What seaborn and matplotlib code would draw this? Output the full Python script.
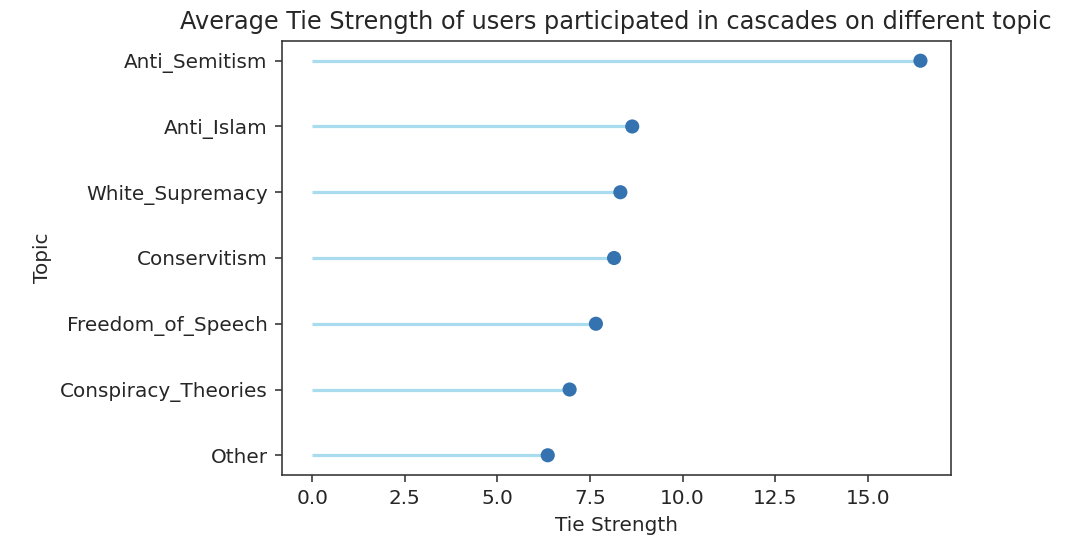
import numpy as np
import pandas as pd
import matplotlib
matplotlib.use("Agg")
import matplotlib.pyplot as plt
import seaborn as sns

# data, bottom to top
topics = ['Other', 'Conspiracy_Theories', 'Freedom_of_Speech', 'Conservitism',
          'White_Supremacy', 'Anti_Islam', 'Anti_Semitism']
tie_strength = [6.36, 6.95, 7.66, 8.15, 8.32, 8.64, 16.42]

df = pd.DataFrame({'topic': topics, 'tie_strength': tie_strength})
df['pos'] = np.arange(len(df))

sns.set_style('ticks')
plt.rcParams['font.family'] = ['DejaVu Sans']

fig = plt.figure(figsize=(1072 / 144, 554 / 144), dpi=144)
ax = fig.add_axes([0.2628, 0.1426, 0.887 - 0.2628, 0.926 - 0.1426])

ax.hlines(y=df['pos'], xmin=0, xmax=df['tie_strength'], color='skyblue',
          alpha=0.7, linewidth=1.6)
sns.scatterplot(data=df, x='tie_strength', y='pos', ax=ax, s=50,
                color='#3473b0', edgecolor='none', zorder=3)
ax.margins(x=0.05, y=0.05)

ax.set_yticks(df['pos'])
ax.set_yticklabels(df['topic'])
ax.set_xticks([0, 2.5, 5, 7.5, 10, 12.5, 15])
ax.set_xticklabels(['0.0', '2.5', '5.0', '7.5', '10.0', '12.5', '15.0'])
ax.tick_params(labelsize=10, length=3.5, width=0.8, color='#333333')
for sp in ax.spines.values():
    sp.set_visible(True)
    sp.set_color('#333333')
    sp.set_linewidth(0.8)

ax.set_title('Average Tie Strength of users participated in cascades on different topic', fontsize=12)
ax.set_xlabel('Tie Strength', fontsize=10)
ax.set_ylabel('Topic', fontsize=10)

fig.savefig('out.png', dpi=144)
